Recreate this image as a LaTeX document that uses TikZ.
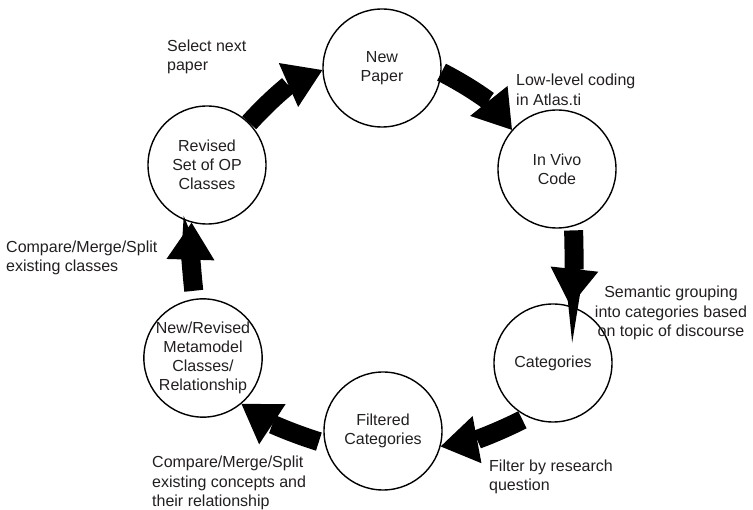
\documentclass[tikz,border=0pt]{standalone}
\usepackage{fontspec}
\setmainfont{Liberation Sans}
\usetikzlibrary{arrows.meta}
\definecolor{ink}{HTML}{231F20}
\begin{document}
\begin{tikzpicture}[x=1pt,y=-1pt,
  stage/.style={circle, draw=black, line width=1.4pt, minimum size=118pt,
    inner sep=0pt, align=center, font=\fontsize{16}{19}\selectfont, text=ink},
  note/.style={anchor=west, inner sep=0pt, align=left,
    font=\fontsize{16}{19.5}\selectfont, text=ink},
  flow/.style={line width=19pt, draw=black,
    -{Triangle[length=37pt 0 0,width=48pt 0 0,line width=0pt 0]}, bend left=#1},
  flow/.default=10,
]
\useasboundingbox (0,0) rectangle (753,510);

% process stages
\node[stage] (np)  at (382,68)  {New\\Paper};
\node[stage] (iv)  at (557,169) {In Vivo\\Code};
\node[stage] (cat) at (553,363) {Categories};
\node[stage] (fc)  at (383,431) {Filtered\\Categories};
\node[stage] (nr)  at (203,358) {New/Revised\\Metamodel\\Classes/\\Relationship};
\node[stage] (rs)  at (207,165) {Revised\\Set of OP\\Classes};

% cycle arrows
\draw[flow=12] (rs.45) to (np.182);
\draw[flow=12] (np.-4) to (iv.139);
\draw[flow=4, shorten <=4pt] (iv.-74) to (cat.73);
\draw[flow=8, shorten <=6pt] (cat.245) to (fc.-15);
\draw[flow=8, shorten <=6pt] (fc.192) to (nr.-50);
\draw[flow=4, shorten <=8pt] (nr.98) to (rs.255);

% step descriptions
\node[note] (t1) at (167,57)  {Select next\\paper};
\node[note] (t2) at (516,90)  {Low-level coding\\in Atlas.ti};
\node[note, align=center, anchor=center] (t3) at (671,313)
  {Semantic grouping\\into categories based\\on topic of discourse};
\node[note] (t4) at (489,477) {Filter by research\\question};
\node[note] (t5) at (152,483) {Compare/Merge/Split\\existing concepts and\\their relationship};
\node[note] (t6) at (6,258)   {Compare/Merge/Split\\existing classes};
\end{tikzpicture}
\end{document}
